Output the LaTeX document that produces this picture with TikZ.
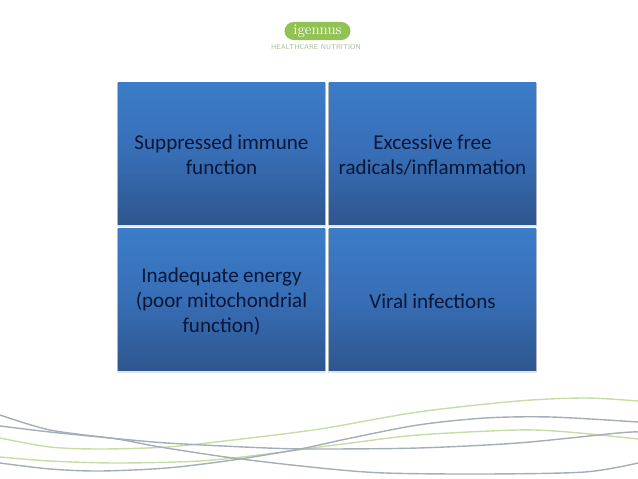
\documentclass[tikz,border=0pt]{standalone}
\usepackage{fontspec}
\setmainfont{Carlito}[WordSpace=0.9]
\usetikzlibrary{backgrounds}
\definecolor{boxtop}{RGB}{60,124,200}
\definecolor{boxmid}{RGB}{55,110,182}
\definecolor{boxbot}{RGB}{46,86,142}
\definecolor{boxtext}{RGB}{8,22,56}
\definecolor{wavegrey}{RGB}{165,173,182}
\definecolor{wavegreen}{RGB}{200,220,165}
\definecolor{logogreen}{RGB}{146,194,84}
\definecolor{taglinegreen}{RGB}{165,190,150}
\tikzset{
  causebox/.style={minimum width=5.175cm, minimum height=3.525cm, inner sep=0pt, outer sep=0pt,
    top color=boxtop, bottom color=boxbot, middle color=boxmid},
  causetext/.style={align=center, text=boxtext, inner sep=0pt, font=\fontsize{15}{18}\selectfont},
  wavegrey/.style={draw=wavegrey, line width=1pt},
  wavegreen/.style={draw=wavegreen, line width=1pt},
}
\begin{document}
\begin{tikzpicture}[x=0.025cm, y=-0.025cm]
  \useasboundingbox (0,0) rectangle (638,479);
  % logo
  \node[fill=logogreen, rounded corners=6.5pt, minimum width=1.65cm, minimum height=0.45cm, inner sep=0pt,
    text=white, font=\fontfamily{lmr}\fontsize{10.5}{10.5}\selectfont] (logo) at (317.5,31) {igennus};
  \node[text=taglinegreen, font=\fontfamily{lmss}\fontsize{4.95}{5}\selectfont, inner sep=0pt] (tagline) at (316,47.5) {HEALTHCARE NUTRITION};
  % boxes
  \node[causebox] (immune) at (221.5,153.5) {};
  \node[causebox] (radicals) at (432.5,153.5) {};
  \node[causebox] (energy) at (221.5,299.5) {};
  \node[causebox] (viral) at (432.5,299.5) {};
  \begin{scope}[on background layer]
    \foreach \n in {immune,radicals,energy,viral} {
      \fill[black, opacity=0.10] ([xshift=-0.8pt,yshift=-1.8pt]\n.south west) rectangle ([xshift=0.8pt,yshift=0.3pt]\n.north east);
      \fill[black, opacity=0.16] ([xshift=-0.4pt,yshift=-0.9pt]\n.south west) rectangle ([xshift=0.4pt]\n.north east);
    }
  \end{scope}
  \node[causetext] (immunetext) at (221.5,155) {Suppressed immune\\function};
  \node[causetext] (radicalstext) at (432.5,155) {Excessive free\\radicals/inflammation};
  \node[causetext] (energytext) at (221.5,301.5) {Inadequate energy\\(poor mitochondrial\\function)};
  \node[causetext] (viraltext) at (432.5,301.5) {Viral infections};
  % waves
  \draw[wavegreen] plot[smooth] coordinates {(0,438) (50,447) (100,449) (167,447) (233,440) (320,429) (418,412) (518,401) (585,398) (638,401)};
  \draw[wavegreen] plot[smooth] coordinates {(0,457) (50,461) (117,463) (200,461) (267,454) (320,447) (351,443) (418,435) (518,430) (568,432) (638,439)};
  \draw[wavegrey] plot[smooth] coordinates {(0,415) (50,430) (117,439) (160,447) (233,458) (320,468) (385,473) (485,474) (585,472) (638,463)};
  \draw[wavegrey] plot[smooth] coordinates {(0,426) (50,432) (100,437) (167,443) (267,448) (320,449) (418,448) (518,443) (618,433) (638,432)};
  \draw[wavegrey] plot[smooth] coordinates {(0,463) (50,469) (100,471) (167,468) (233,460) (300,449) (351,438) (418,425) (485,418) (551,417) (638,422)};
\end{tikzpicture}
\end{document}
